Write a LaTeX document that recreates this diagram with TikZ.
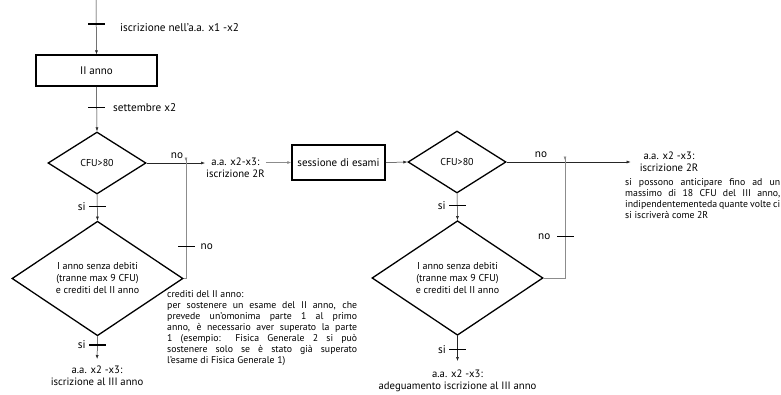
\documentclass[tikz,border=0pt]{standalone}
\usepackage{fontspec}
\setmainfont{PT Sans}
\usetikzlibrary{shapes.geometric,arrows.meta,calc}
\begin{document}
\begin{tikzpicture}[x=1pt,y=-1pt,
  lab/.style={font=\fontsize{11.2}{12}\selectfont, inner sep=1pt},
  boxnode/.style={draw, line width=1.3pt, inner sep=0pt, font=\fontsize{11}{12}\selectfont},
  dia/.style={draw, diamond, line width=1.3pt, inner sep=0pt, align=center, font=\fontsize{10}{12}\selectfont},
  flow/.style={line width=0.5pt, draw=black!85},
  arr/.style={flow, -{Latex[length=4pt,width=3pt]}},
  garr/.style={line width=0.7pt, draw=black!45, -{Latex[length=4pt,width=3pt,fill=black!60]}},
  gline/.style={line width=0.7pt, draw=black!45},
  tick/.style={fill=black, minimum width=17pt, minimum height=1.3pt, inner sep=0pt, outer sep=0pt},
  para/.style={font=\fontsize{9.8}{11}\selectfont, inner sep=0pt, align=left, anchor=north west},
  res/.style={font=\fontsize{10.7}{11.5}\selectfont, inner sep=1pt, align=center}
]
\useasboundingbox (0,0) rectangle (781,394);

% nodes
\coordinate (start) at (96,0);
\node[boxnode, minimum width=121pt, minimum height=31pt] (box1) at (96.5,70.5) {II anno};
\node[dia, minimum width=98pt, minimum height=62pt] (d1) at (97,163) {CFU>80};
\node[dia, minimum width=171pt, minimum height=80pt] (d3) at (97.5,278.5) {I anno senza debiti\\(tranne max 9 CFU)\\e crediti del II anno};
\node[res, anchor=north] (t3) at (97,365) {a.a. x2 -x3:\\iscrizione al III anno};

\node[res, anchor=north west] (r1) at (205,157) {a.a. x2-x3:\\iscrizione 2R};
\node[boxnode, minimum width=93pt, minimum height=35pt] (box2) at (338.5,162.5) {sessione di esami};
\node[dia, minimum width=98pt, minimum height=62pt] (d2) at (457,162) {CFU>80};
\node[dia, minimum width=171pt, minimum height=77pt] (d4) at (457.5,278) {I anno senza debiti\\(tranne max 9 CFU)\\e crediti del II anno};
\node[res, anchor=north] (t4) at (457.5,369) {a.a. x2 -x3:\\adeguamento iscrizione al III anno};

\node[res] (r2) at (669,162) {a.a. x2 -x3:\\iscrizione 2R};

\coordinate (j1) at (186,163);
\coordinate (j2) at (565,162);

% labels
\node[lab, anchor=west] (l1) at (119,28) {iscrizione nell'a.a. x1 -x2};
\node[lab, anchor=west] (l2) at (112,108) {settembre x2};
\node[lab] (n1) at (177,156) {no};
\node[lab] (n3) at (541,155) {no};

% paragraphs
\node[para] (p1) at (167,290) {crediti del II anno:\\
\makebox[190pt][s]{per sostenere un esame del II anno, che}\\
\makebox[190pt][s]{prevede un'omonima parte 1 al primo}\\
\makebox[190pt][s]{anno, è necessario aver superato la parte}\\
\makebox[190pt][s]{1 (esempio: Fisica Generale 2 si può}\\
\makebox[190pt][s]{sostenere solo se è stato già superato}\\
l'esame di Fisica Generale 1)};
\node[para] (p2) at (625,178.5) {\makebox[155pt][s]{si possono anticipare fino ad un}\\
\makebox[155pt][s]{massimo di 18 CFU del III anno,}\\
\makebox[155pt][s]{indipendentementeda quante volte ci}\\
si iscriverà come 2R};

% connectors left
\draw[arr] (start) -- node[tick, pos=0.44] (tk1) {} (box1.north);
\draw[arr] (box1.south) -- node[tick, pos=0.46] (tk2) {} (d1.north);
\draw[arr] (d1.south) -- node[tick, pos=0.45] (tk3) {} (d3.north);
\node[lab, anchor=east, inner sep=3pt] at (tk3.west) {si};
\draw[arr, shorten >=6pt] (d3.south) -- node[tick, pos=0.3] (tk4) {} (t3.north);
\node[lab, anchor=east, inner sep=3pt] at (tk4.west) {si};
\draw[arr] (d1.east) -- (d1.east -| r1.west);
\draw[gline] (d3.east) -- (d3.east -| j1) -- node[tick, pos=0.27] (tk5) {} ([yshift=3pt]j1);
\draw[garr] ([yshift=3pt]j1) -- ([yshift=1.5pt]j1);
\node[lab, anchor=west, inner sep=6pt] at (tk5.east) {no};
\draw[garr] (box2.west -| r1.east) -- (box2.west);

% connectors right
\draw[arr] (box2.east) -- (d2.west);
\draw[arr] (d2.east) -- ($(r2.west |- d2.east)+(-8,0)$);
\draw[arr] (d2.south) -- node[tick, pos=0.45] (tk6) {} (d4.north);
\node[lab, anchor=east, inner sep=3pt] at (tk6.west) {si};
\draw[arr, shorten >=8pt] (d4.south) -- node[tick, pos=0.42] (tk7) {} (t4.north);
\node[lab, anchor=east, inner sep=3pt] at (tk7.west) {si};
\draw[gline] (d4.east) -- (d4.east -| j2) -- node[tick, pos=0.35] (tk8) {} ([yshift=3pt]j2);
\draw[garr] ([yshift=3pt]j2) -- ([yshift=1.5pt]j2);
\node[lab, anchor=east, inner sep=6pt] at (tk8.west) {no};
\end{tikzpicture}
\end{document}
